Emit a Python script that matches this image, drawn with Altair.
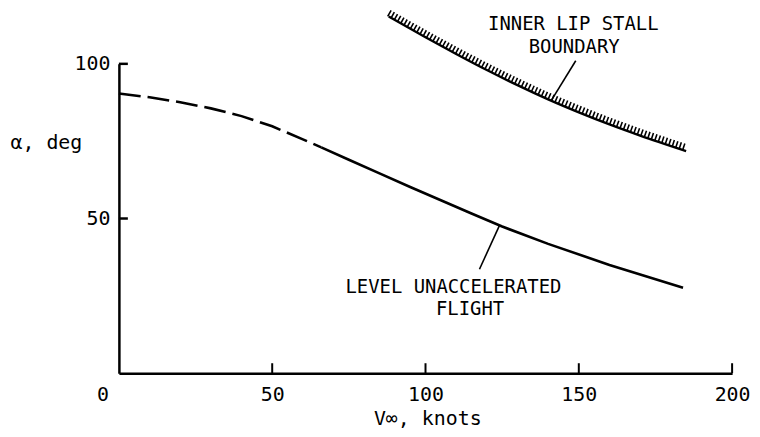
import altair as alt
import pandas as pd

# Level unaccelerated flight (dashed portion, then solid portion)
lvl_dash_x = [0, 10, 20, 30, 40, 50, 60, 66]
lvl_dash_y = [90.4, 89.2, 87.6, 85.6, 83.1, 79.8, 75.6, 73.0]
lvl_solid_x = [66, 75, 85, 95, 105, 115, 125, 140, 160, 184]
lvl_solid_y = [73.0, 69.0, 64.6, 60.2, 55.9, 51.6, 47.4, 41.8, 35.0, 27.6]

# Inner lip stall boundary
stall_x = [88, 100, 110, 120, 130, 140, 150, 160, 170, 185]
stall_y = [115.3, 108.6, 103.2, 98.0, 93.1, 88.5, 84.3, 80.4, 76.8, 71.8]

# Axis ticks
x_ticks = [0, 50, 100, 150, 200]
x_inner_ticks = [50, 100, 150, 200]
y_ticks = [50, 100]

# Annotation texts, positions (data units) and leader lines
stall_labels = ["INNER LIP STALL", "BOUNDARY"]
stall_label_x = [148.2, 148.5]
stall_label_y = [112.8, 105.4]
flight_labels = ["LEVEL UNACCELERATED", "FLIGHT"]
flight_label_x = [73.9, 103.4]
flight_label_y = [27.9, 20.6]
leader_x = [141.0, 149.0, 124.1, 117.6]
leader_y = [88.1, 101.0, 47.7, 33.6]
leader_id = ["s", "s", "l", "l"]

W, H = 616.5, 311
FONT = "DejaVu Sans Mono"

dash_df = pd.DataFrame({"x": lvl_dash_x, "y": lvl_dash_y})
solid_df = pd.DataFrame({"x": lvl_solid_x, "y": lvl_solid_y})
stall_df = pd.DataFrame({"x": stall_x, "y": stall_y})
slab_df = pd.DataFrame({"t": stall_labels, "x": stall_label_x, "y": stall_label_y})
flab_df = pd.DataFrame({"t": flight_labels, "x": flight_label_x, "y": flight_label_y})
lead_df = pd.DataFrame({"x": leader_x, "y": leader_y, "g": leader_id})
xt_df = pd.DataFrame({"x": x_inner_ticks})
yt_df = pd.DataFrame({"y": y_ticks})

xs = alt.Scale(domain=[0, 200], nice=False, zero=False)
ys = alt.Scale(domain=[0, 100], nice=False, zero=False)

x_axis = alt.Axis(
    values=x_ticks, ticks=False, grid=False, domainColor="black", domainWidth=2.5,
    labelFont=FONT, labelFontSize=20, labelColor="black", labelPadding=11,
    labelOffset={"condition": {"test": "datum.value == 0", "value": -16.5}, "value": 0},
    labelFlush=False, labelOverlap=False,
    title="V∞, knots", titleFont=FONT, titleFontSize=20, titleFontWeight="normal",
    titleColor="black", titleX=310, titleY=46, titleAlign="center", titleBaseline="middle",
)
y_axis = alt.Axis(
    values=y_ticks, ticks=False, grid=False, domainColor="black", domainWidth=2.5,
    labelFont=FONT, labelFontSize=20, labelColor="black", labelPadding=9,
    labelFlush=False, labelOverlap=False, labelBaseline="middle",
    title="α, deg", titleFont=FONT, titleFontSize=20, titleFontWeight="normal",
    titleColor="black", titleAngle=0, titleX=-109.5, titleY=79, titleAlign="left",
    titleBaseline="middle",
)

base_dash = alt.Chart(dash_df).mark_line(color="black", strokeWidth=2.6, strokeDash=[22, 7]).encode(
    x=alt.X("x:Q", scale=xs, axis=x_axis), y=alt.Y("y:Q", scale=ys, axis=y_axis)
)
solid = alt.Chart(solid_df).mark_line(color="black", strokeWidth=2.6).encode(
    x=alt.X("x:Q", scale=xs), y=alt.Y("y:Q", scale=ys)
)
stall_line = alt.Chart(stall_df).mark_line(color="black", strokeWidth=2.4, interpolate="monotone").encode(
    x=alt.X("x:Q", scale=xs), y=alt.Y("y:Q", scale=ys)
)
stall_hatch = alt.Chart(stall_df).mark_line(
    color="black", strokeWidth=7, strokeDash=[1.6, 2.1], yOffset=-3.5, interpolate="monotone"
).encode(x=alt.X("x:Q", scale=xs), y=alt.Y("y:Q", scale=ys))

leaders = alt.Chart(lead_df).mark_line(color="black", strokeWidth=1.6).encode(
    x=alt.X("x:Q", scale=xs), y=alt.Y("y:Q", scale=ys), detail="g:N"
)
stexts = alt.Chart(slab_df).mark_text(font=FONT, fontSize=19, color="black", baseline="middle", align="center").encode(
    x=alt.X("x:Q", scale=xs), y=alt.Y("y:Q", scale=ys), text="t:N"
)
ftexts = alt.Chart(flab_df).mark_text(font=FONT, fontSize=19, color="black", baseline="middle", align="left").encode(
    x=alt.X("x:Q", scale=xs), y=alt.Y("y:Q", scale=ys), text="t:N"
)
xticks = alt.Chart(xt_df).mark_rule(color="black", strokeWidth=2).encode(
    x=alt.X("x:Q", scale=xs), y=alt.value(H), y2=alt.value(H - 10)
)
yticks = alt.Chart(yt_df).mark_rule(color="black", strokeWidth=2.5).encode(
    y=alt.Y("y:Q", scale=ys), x=alt.value(0), x2=alt.value(9)
)

chart = alt.layer(base_dash, solid, stall_line, stall_hatch, leaders, stexts, ftexts, xticks, yticks).properties(
    width=W, height=H,
    autosize=alt.AutoSizeParams(type="none"),
    padding={"left": 111.5, "top": 55, "right": 20, "bottom": 58},
).configure(background="white").configure_view(strokeWidth=0, strokeOpacity=0)

chart.save("out.html", embed_options={"renderer": "svg", "actions": False})
